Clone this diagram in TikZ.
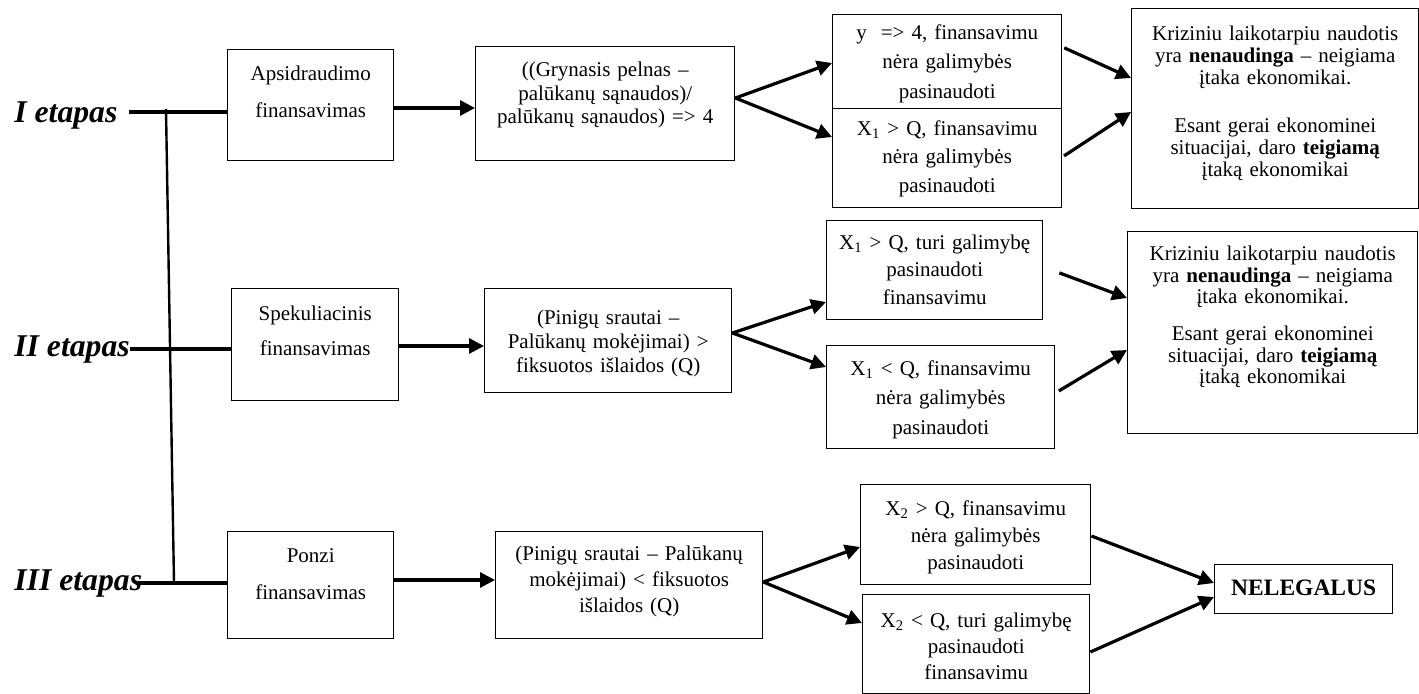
\documentclass[tikz,border=0pt]{standalone}
\usepackage{fontspec}
\setmainfont{Liberation Serif}
\usetikzlibrary{arrows.meta}

\begin{document}
\begin{tikzpicture}[x=0.5pt, y=-0.5pt,
  bx/.style={draw, line width=0.7pt, inner sep=0pt, anchor=north west, align=center, font=\fontsize{10.5}{#1}\selectfont},
  etap/.style={font=\fontsize{15.85}{18}\selectfont\bfseries\itshape, inner sep=0pt, anchor=base west},
  stage/.style={line width=2.3pt},
  arr/.style={-{Triangle[length=7.5pt,width=7.5pt]}, line width=1.6pt}]
\useasboundingbox (0,0) rectangle (1419,694);
% etapai
\node[etap] (e1) at (14,123) {I etapas};
\node[etap] (e2) at (14,357) {II etapas};
\node[etap] (e3) at (14,591) {III etapas};
% I etapas
\node[bx=18.5pt, text width=83pt, text height=15.5pt, text depth=40pt] (a1) at (227,49) {Apsidraudimo\\finansavimas};
\node[bx=11.75pt, text width=129.5pt, text height=15pt, text depth=42pt] (b1) at (475,46) {((Grynasis pelnas –\\palūkanų sąnaudos)/\\palūkanų sąnaudos) => 4};
\node[bx=14.75pt, text width=114.5pt, text height=12.25pt, text depth=34.75pt] (c1a) at (832,14) {y~~=> 4, finansavimu\\nėra galimybės\\pasinaudoti};
\node[bx=14.25pt, text width=114.5pt, text height=13.25pt, text depth=36.25pt] (c1b) at (832,108) {X\textsubscript{1} > Q, finansavimu\\nėra galimybės\\pasinaudoti};
\node[bx=11pt, text width=143.5pt, text height=16pt, text depth=84pt] (d1) at (1131,8) {Kriziniu laikotarpiu naudotis\\yra \textbf{nenaudinga} – neigiama\\įtaka ekonomikai.\\[13pt]Esant gerai ekonominei\\situacijai, daro \textbf{teigiamą}\\įtaką ekonomikai};
% II etapas
\node[bx=17.5pt, text width=83.5pt, text height=15.75pt, text depth=40.25pt] (a2) at (231,288) {Spekuliacinis\\finansavimas};
\node[bx=12pt, text width=123.5pt, text height=17.75pt, text depth=34.25pt] (b2) at (484,288) {(Pinigų srautai –\\Palūkanų mokėjimai) >\\fiksuotos išlaidos (Q)};
\node[bx=13.75pt, text width=108pt, text height=14.25pt, text depth=35.25pt] (c2a) at (826,220) {X\textsubscript{1} > Q, turi galimybę\\pasinaudoti\\finansavimu};
\node[bx=14.75pt, text width=114pt, text height=14.75pt, text depth=36.75pt] (c2b) at (826,345) {X\textsubscript{1} < Q, finansavimu\\nėra galimybės\\pasinaudoti};
\node[bx=10.75pt, text width=145pt, text height=14.5pt, text depth=86.5pt] (d2) at (1127,231) {Kriziniu laikotarpiu naudotis\\yra \textbf{nenaudinga} – neigiama\\įtaka ekonomikai.\\[7.75pt]Esant gerai ekonominei\\situacijai, daro \textbf{teigiamą}\\įtaką ekonomikai};
% III etapas
\node[bx=18.5pt, text width=83pt, text height=15.25pt, text depth=38.25pt] (a3) at (227,531) {Ponzi\\finansavimas};
\node[bx=13pt, text width=133.5pt, text height=14.25pt, text depth=39.25pt] (b3) at (495,531) {(Pinigų srautai – Palūkanų\\mokėjimai) < fiksuotos\\išlaidos (Q)};
\node[bx=13.5pt, text width=115pt, text height=15.25pt, text depth=34.75pt] (c3a) at (860,484) {X\textsubscript{2} > Q, finansavimu\\nėra galimybės\\pasinaudoti};
\node[bx=13pt, text width=113.5pt, text height=16.25pt, text depth=33.25pt] (c3b) at (862,594) {X\textsubscript{2} < Q, turi galimybę\\pasinaudoti\\finansavimu};
\node[bx=14pt, font=\fontsize{11.75}{14}\selectfont\bfseries, text width=89pt, text height=15.5pt, text depth=9pt] (nel) at (1214,564) {NELEGALUS};
% linijos
\draw[stage, shorten <=5.5pt] (e1.east |- 0,112) -- (a1.west |- 0,112);
\draw[stage] (e2.east |- 0,349) -- (a2.west |- 0,349);
\draw[stage, shorten <=-2pt] (e3.east |- 0,583) -- (a3.west |- 0,583);
\coordinate (vtop) at (166,109);
\coordinate (vbot) at (174,583);
\draw[line width=1.2pt] (vtop) -- (vbot);
\foreach \a/\ya/\b/\yb in {a1/108/b1/108, a2/346/b2/346, a3/580/b3/580, b1/98/c1a/63, b1/98/c1b/137, b2/333/c2a/302, b2/333/c2b/367, b3/582/c3a/547, b3/582/c3b/623}
  \draw[arr] (\a.east |- 0,\ya) -- (\b.west |- 0,\yb);
\foreach \a/\ya/\g/\b/\yb in {c1a/47/1pt/d1/78, c1b/157/1pt/d1/112, c2a/267/8.5pt/d2/298, c2b/393/2pt/d2/350, c3a/536/0pt/nel/583, c3b/652/0pt/nel/597}
  \draw[arr, shorten <=\g] (\a.east |- 0,\ya) -- (\b.west |- 0,\yb);
\end{tikzpicture}
\end{document}
